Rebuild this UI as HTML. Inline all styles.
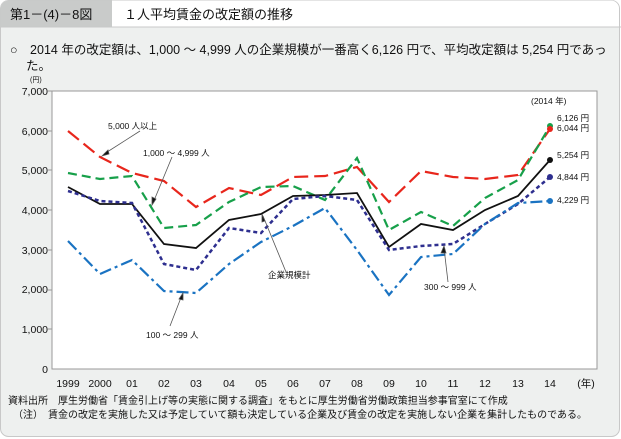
<!DOCTYPE html>
<html><head><meta charset="utf-8"><style>
body{margin:0;background:#fff;}
svg{display:block;font-family:"Liberation Sans","Noto Sans CJK JP",sans-serif;}
</style></head><body>
<svg width="621" height="439" viewBox="0 0 621 439" xmlns="http://www.w3.org/2000/svg">
<rect x="0.5" y="0.5" width="619" height="436" rx="8" fill="#eef0ef" stroke="#c8c8c8"/>
<path d="M0.5 8.5 a8 8 0 0 1 8 -8 H611 a8 8 0 0 1 8 8 V27 H0.5 Z" fill="#fff"/>
<path d="M0.5 8.5 a8 8 0 0 1 8 -8 H112 V27 H0.5 Z" fill="#c9cbca"/>
<line x1="0" y1="27" x2="621" y2="27" stroke="#c8c8c8"/>
<text x="10" y="19" font-size="13" fill="#111">第1－(4)－8図</text>
<text x="124" y="19" font-size="13" fill="#111">１人平均賃金の改定額の推移</text>
<text x="10" y="54" font-size="12.5" fill="#111">○　2014 年の改定額は、1,000 ～ 4,999 人の企業規模が一番高く6,126 円で、平均改定額は 5,254 円であっ</text>
<text x="26" y="70" font-size="12.5" fill="#111">た。</text>
<text x="30" y="82" font-size="7" fill="#111">(円)</text>
<rect x="52" y="91" width="545" height="278" fill="#fff" stroke="#999" stroke-width="1"/>
<g font-size="10.5" fill="#111" text-anchor="end">
<text x="48" y="95">7,000</text><text x="48" y="135">6,000</text><text x="48" y="174">5,000</text>
<text x="48" y="214">4,000</text><text x="48" y="254">3,000</text><text x="48" y="293">2,000</text>
<text x="48" y="333">1,000</text><text x="48" y="373">0</text>
</g>
<g stroke="#999" stroke-width="1">
<line x1="48" y1="91" x2="52" y2="91"/><line x1="48" y1="131" x2="52" y2="131"/><line x1="48" y1="170" x2="52" y2="170"/><line x1="48" y1="210" x2="52" y2="210"/><line x1="48" y1="250" x2="52" y2="250"/><line x1="48" y1="290" x2="52" y2="290"/><line x1="48" y1="329" x2="52" y2="329"/>
</g>
<g font-size="10.5" fill="#111" text-anchor="middle">
<text x="68" y="387">1999</text><text x="100" y="387">2000</text><text x="132" y="387">01</text><text x="164" y="387">02</text><text x="196" y="387">03</text><text x="229" y="387">04</text><text x="261" y="387">05</text><text x="293" y="387">06</text><text x="325" y="387">07</text><text x="357" y="387">08</text><text x="389" y="387">09</text><text x="421" y="387">10</text><text x="453" y="387">11</text><text x="485" y="387">12</text><text x="518" y="387">13</text><text x="550" y="387">14</text><text x="586" y="387">(年)</text>
</g>
<g fill="none" stroke-width="2.2">
<polyline stroke="#e8261c" stroke-dasharray="14,6" points="68,131 100,157 132,173 164,181 196,207 229,188 261,195 293,177 325,176 357,167 389,202 421,171 453,177 485,179 518,175 550,129"/>
<polyline stroke="#17a04a" stroke-dasharray="9,5" points="68,173 100,179 132,176 164,228 196,225 229,202 261,187 293,186 325,200 357,158 389,230 421,212 453,226 485,198 518,180 550,126"/>
<polyline stroke="#111" stroke-width="1.8" points="68,187 100,204 132,204 164,244 196,248 229,220 261,214 293,196 325,195 357,193 389,247 421,224 453,230 485,210 518,196 550,160"/>
<polyline stroke="#2e2f8f" stroke-dasharray="4,3" stroke-width="2.5" points="68,191 100,201 132,203 164,264 196,270 229,228 261,233 293,199 325,196 357,200 389,250 421,246 453,244 485,224 518,204 550,177"/>
<polyline stroke="#1a73c2" stroke-dasharray="12,4,3,4" points="68,241 100,274 132,260 164,291 196,293 229,264 261,242 293,226 325,208 357,250 389,295 421,257 453,254 485,224 518,203 550,201"/>
</g>
<circle cx="550" cy="126" r="3" fill="#17a04a"/><circle cx="550" cy="129" r="3" fill="#e8261c"/>
<circle cx="550" cy="160" r="3" fill="#111"/><circle cx="550" cy="177" r="3" fill="#2e2f8f"/><circle cx="550" cy="201" r="3" fill="#1a73c2"/>
<g font-size="8.5" fill="#111">
<text x="531" y="104">(2014 年)</text>
<text x="557" y="121">6,126 円</text><text x="557" y="131">6,044 円</text>
<text x="557" y="158">5,254 円</text><text x="557" y="180">4,844 円</text><text x="557" y="203">4,229 円</text>
<text x="108" y="129">5,000 人以上</text>
<text x="143" y="156">1,000 ～ 4,999 人</text>
<text x="268" y="278">企業規模計</text>
<text x="424" y="290">300 ～ 999 人</text>
<text x="146" y="338">100 ～ 299 人</text>
</g>
<g stroke="#555" stroke-width="0.8" fill="#111">
<line x1="140" y1="131" x2="104" y2="154"/><path d="M102 156 l6 -6 l1 4z"/>
<line x1="172" y1="157" x2="153" y2="203"/><path d="M152 205 l0 -8 l4 2z"/>
<line x1="286" y1="272" x2="263" y2="216"/><path d="M262 214 l0 8 l3 -1z"/>
<line x1="448" y1="282" x2="444" y2="248"/><path d="M444 246 l-3 7 l5 0z"/>
<line x1="170" y1="326" x2="182" y2="295"/><path d="M183 293 l-4 6 l4 1z"/>
</g>
<text x="8" y="404" font-size="10" fill="#111">資料出所　厚生労働省「賃金引上げ等の実態に関する調査」をもとに厚生労働省労働政策担当参事官室にて作成</text>
<text x="8" y="418" font-size="10" fill="#111">　（注）　賃金の改定を実施した又は予定していて額も決定している企業及び賃金の改定を実施しない企業を集計したものである。</text>
</svg>
</body></html>
